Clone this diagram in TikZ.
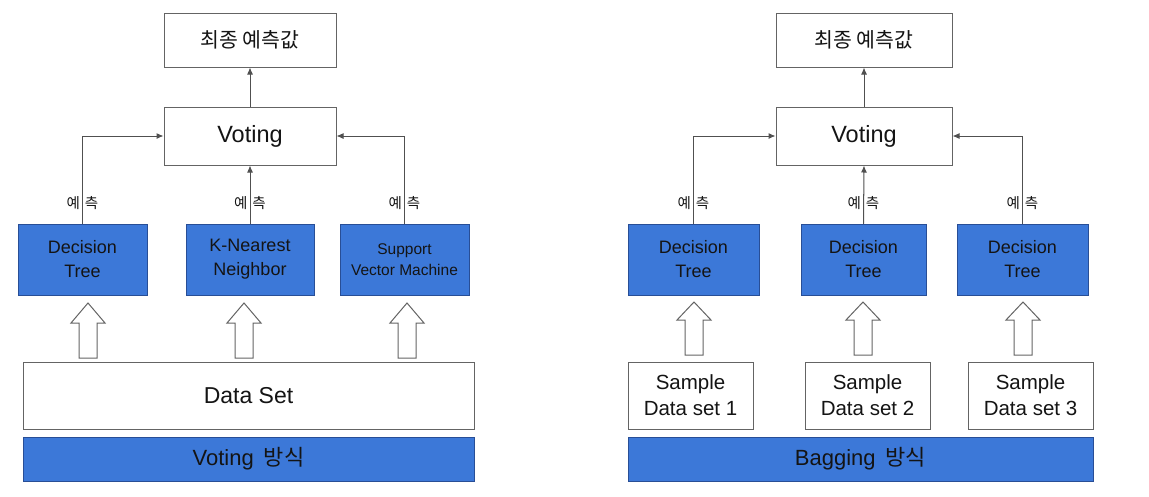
\documentclass[tikz,border=0pt]{standalone}
\usepackage{fontspec}
\setmainfont{Liberation Sans}
\newfontfamily\kr{Noto Sans CJK KR}
\usetikzlibrary{arrows.meta,calc}
\definecolor{bluefill}{RGB}{60,120,216}
\definecolor{blueedge}{RGB}{40,78,150}
\definecolor{edgegray}{RGB}{100,100,100}
\definecolor{linegray}{RGB}{80,80,80}
\definecolor{txt}{RGB}{20,20,20}
\tikzset{
  wbox/.style={draw=edgegray, line width=1pt, fill=white, inner sep=0pt, align=center, text=txt},
  bbox/.style={draw=blueedge, line width=1pt, fill=bluefill, inner sep=0pt, align=center, text=txt},
  conn/.style={draw=linegray, line width=1pt, -{Latex[length=7pt,width=6pt]}},
  lbl/.style={inner sep=0pt, text=txt, font=\kr\fontsize{14.5}{16}\selectfont},
  harrow/.pic={\draw[edgegray, line width=1pt, fill=white] (-9,0) -- (-9,-35) -- (-17,-35) -- (0,-55) -- (17,-35) -- (9,-35) -- (9,0) -- cycle;},
  harrowb/.pic={\draw[edgegray, line width=1pt, fill=white] (-9,0) -- (-9,-35) -- (-17,-35) -- (0,-53) -- (17,-35) -- (9,-35) -- (9,0) -- cycle;}
}
\begin{document}
\begin{tikzpicture}[x=1pt,y=-1pt]
\useasboundingbox[fill=white] (0,0) rectangle (1149,496);
% ---------- left panel ----------
\node[wbox, minimum width=172pt, minimum height=54pt, font=\kr\fontsize{20.5}{24}\selectfont] (top1) at (250,40) {최종 예측값};
\node[wbox, minimum width=172pt, minimum height=58pt, font=\fontsize{23.5}{27}\selectfont] (vote1) at (250,136) {\raisebox{-2pt}{Voting}};
\node[bbox, minimum width=129pt, minimum height=71pt, font=\fontsize{18}{24}\selectfont] (dt1) at (82.5,259.5) {Decision\\Tree};
\node[bbox, minimum width=128pt, minimum height=71pt, font=\fontsize{18}{24}\selectfont] (knn) at (250,259.5) {K-Nearest\\Neighbor};
\node[bbox, minimum width=129pt, minimum height=71pt, font=\fontsize{15.5}{21}\selectfont] (svm) at (404.5,259.5) {Support\\Vector Machine};
\node[wbox, minimum width=451pt, minimum height=67pt, font=\fontsize{23}{27}\selectfont] (data) at (248.5,395.5) {Data Set};
\node[bbox, minimum width=451pt, minimum height=44pt, font=\fontsize{22}{26}\selectfont] (bar1) at (248.5,459) {\raisebox{-2pt}{Voting\hspace{10pt}{\kr 방식}}};

\draw[conn] (vote1.north) -- (top1.south);
\draw[conn] (dt1.north) |- (vote1.west);
\draw[conn] (knn.north) -- (vote1.south);
\draw[conn] (svm.north) |- (vote1.east);
\node[lbl] (p1) at ([yshift=20pt]dt1.north) {예\hspace{5pt}측};
\node[lbl] (p2) at ([yshift=20pt]knn.north) {예\hspace{5pt}측};
\node[lbl] (p3) at ([yshift=20pt]svm.north) {예\hspace{5pt}측};
\draw[linegray, line width=1pt] (dt1.north) -- ++(0,-30);
\draw[linegray, line width=1pt] (knn.north) -- ++(0,-30);
\draw[linegray, line width=1pt] (svm.north) -- ++(0,-30);

\pic at (88,358) {harrow};
\pic at (244,358) {harrow};
\pic at (407,358) {harrow};

% ---------- right panel ----------
\node[wbox, minimum width=176pt, minimum height=54pt, font=\kr\fontsize{20.5}{24}\selectfont] (top2) at (864,40) {최종 예측값};
\node[wbox, minimum width=176pt, minimum height=58pt, font=\fontsize{23.5}{27}\selectfont] (vote2) at (864,136) {\raisebox{-2pt}{Voting}};
\node[bbox, minimum width=131pt, minimum height=71pt, font=\fontsize{18}{24}\selectfont] (b1) at (693.5,259.5) {Decision\\Tree};
\node[bbox, minimum width=125pt, minimum height=71pt, font=\fontsize{18}{24}\selectfont] (b2) at (863.5,259.5) {Decision\\Tree};
\node[bbox, minimum width=131pt, minimum height=71pt, font=\fontsize{18}{24}\selectfont] (b3) at (1022.5,259.5) {Decision\\Tree};
\node[wbox, minimum width=125pt, minimum height=67pt, font=\fontsize{20.5}{26}\selectfont] (s1) at (690.5,395.5) {Sample\\Data set 1};
\node[wbox, minimum width=125pt, minimum height=67pt, font=\fontsize{20.5}{26}\selectfont] (s2) at (867.5,395.5) {Sample\\Data set 2};
\node[wbox, minimum width=125pt, minimum height=67pt, font=\fontsize{20.5}{26}\selectfont] (s3) at (1030.5,395.5) {Sample\\Data set 3};
\node[bbox, minimum width=465pt, minimum height=44pt, font=\fontsize{22}{26}\selectfont] (bar2) at (860.5,459) {\raisebox{-2pt}{Bagging\hspace{10pt}{\kr 방식}}};

\draw[conn] (vote2.north) -- (top2.south);
\draw[conn] (b1.north) |- (vote2.west);
\draw[conn] (b2.north) -- (vote2.south);
\draw[conn] (b3.north) |- (vote2.east);
\node[lbl] (q1) at ([yshift=20pt]b1.north) {예\hspace{5pt}측};
\node[lbl] (q2) at ([yshift=20pt]b2.north) {예\hspace{5pt}측};
\node[lbl] (q3) at ([yshift=20pt]b3.north) {예\hspace{5pt}측};
\draw[linegray, line width=1pt] (b1.north) -- ++(0,-30);
\draw[linegray, line width=1pt] (b2.north) -- ++(0,-30);
\draw[linegray, line width=1pt] (b3.north) -- ++(0,-30);

\pic at (694,355) {harrowb};
\pic at (863,355) {harrowb};
\pic at (1023,355) {harrowb};
\end{tikzpicture}
\end{document}
